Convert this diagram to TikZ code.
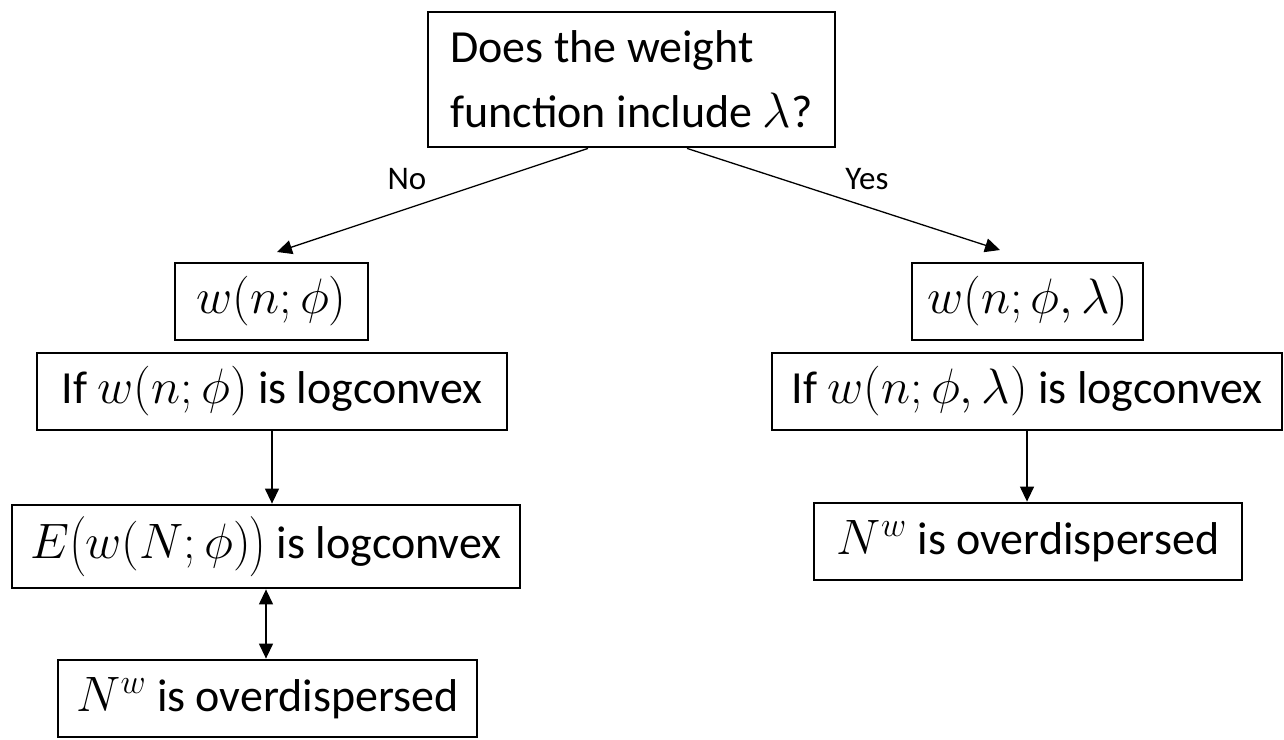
\documentclass[tikz,border=0pt]{standalone}
\usepackage{fontspec}
\setmainfont{Carlito}
\usetikzlibrary{arrows.meta,calc}
\tikzset{
  box/.style={draw, line width=1.4pt, inner sep=0pt, align=center, font=\fontsize{23}{27}\selectfont},
  link/.style={line width=0.65pt, -{Triangle[length=7.5pt,width=7pt]}},
  duallink/.style={line width=0.65pt, {Triangle[length=7.5pt,width=7pt]}-{Triangle[length=7.5pt,width=7pt]}},
  tag/.style={font=\fontsize{16.5}{19}\selectfont, inner sep=0pt}
}
\begin{document}
\begin{tikzpicture}[x=0.5pt,y=-0.5pt]
\useasboundingbox (0,0) rectangle (1284,739);

% question box
\node[box, minimum width=203.5pt, minimum height=67.5pt, align=left, font=\fontsize{23}{32.5}\selectfont]
  (top) at (631.5,79.5) {Does the weight\\function include $\lambda$?};

% left branch
\node[box, minimum width=96.5pt, minimum height=38.5pt] (wl) at (271.5,301.5) {$w(n;\phi)$};
\node[box, minimum width=235pt, minimum height=38.5pt] (ifl) at (272,391.5) {If $w(n;\phi)$ is logconvex};
\node[box, minimum width=254pt, minimum height=41.5pt] (el) at (266,546.5)
  {$E\mathopen{}\left(\rule[-0.38em]{0pt}{1.2em}w(N;\phi)\right)$ is logconvex};
\node[box, minimum width=209.5pt, minimum height=38.5pt] (nl) at (267.5,698.5) {$N^{w}$ is overdispersed};

% right branch
\node[box, minimum width=115.5pt, minimum height=38.5pt] (wr) at (1027.5,301.5) {$w(n;\phi,\lambda)$};
\node[box, minimum width=255pt, minimum height=38.5pt] (ifr) at (1027,391.5) {If $w(n;\phi,\lambda)$ is logconvex};
\node[box, minimum width=214pt, minimum height=38.5pt] (nr) at (1028,541.5) {$N^{w}$ is overdispersed};

% branch arrows
\coordinate (noA) at ($(top.south)+(-43.5,0)$);
\coordinate (noB) at (277,252);
\coordinate (yesA) at ($(top.south)+(55.5,0)$);
\coordinate (yesB) at (1000,250);
\draw[link] (noA) -- (noB);
\draw[link] (yesA) -- (yesB);
\node[tag] (no) at (407,179) {No};
\node[tag] (yes) at (867,179) {Yes};

% implications
\draw[link] (ifl.south) -- (ifl.south |- el.north);
\draw[duallink] (el.south) -- (el.south |- nl.north);
\draw[link] (ifr.south) -- (ifr.south |- nr.north);
\end{tikzpicture}
\end{document}
